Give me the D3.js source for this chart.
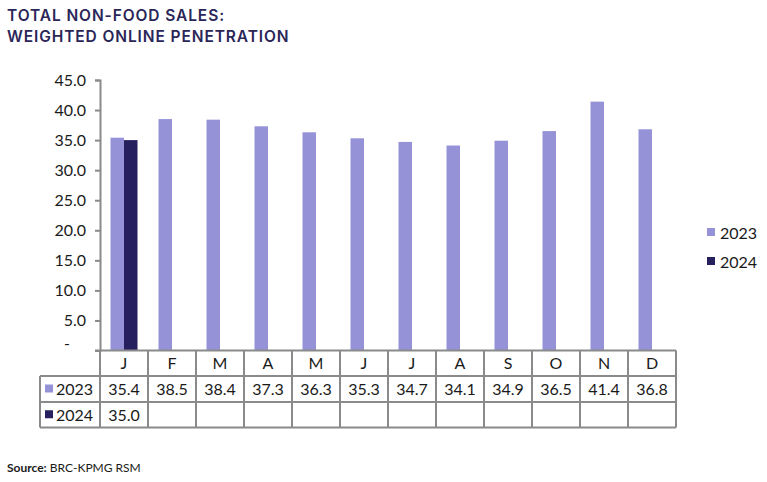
<!DOCTYPE html>
<html><head><meta charset="utf-8">
<script src="https://cdn.jsdelivr.net/npm/d3@7"></script>
<style>body{margin:0;background:#fff;} svg{display:block;}</style>
</head><body>
<svg id="chart" width="767" height="482"></svg>
<script>
const months = ["J","F","M","A","M","J","J","A","S","O","N","D"];
const seriesNames = ["2023","2024"];
const values2023 = [35.4,38.5,38.4,37.3,36.3,35.3,34.7,34.1,34.9,36.5,41.4,36.8];
const values2024 = [35.0,null,null,null,null,null,null,null,null,null,null,null];
const yTicks = [0,5,10,15,20,25,30,35,40,45];
const colors = ["#9592d8","#26215e"];
const titleLines = ["TOTAL NON-FOOD SALES:","WEIGHTED ONLINE PENETRATION"];

const svg = d3.select("#chart");
const L = 100, R = 676, T = 80, B = 350.5;
const font = "Lato, 'Open Sans', sans-serif";
const grid = "#8a8a8a";
const fs = 16;

const idx = months.map((m,i)=>i);
const x = d3.scaleBand().domain(idx).range([L,R]).padding(0);
const x1 = d3.scaleBand().domain(seriesNames).range([0,x.bandwidth()]).paddingInner(0).paddingOuter(0.778);
const y = d3.scaleLinear().domain([0,45]).range([B,T]);

// title
svg.append("g").selectAll("text").data(titleLines).join("text")
  .attr("x",7).attr("y",(d,i)=>21+i*21)
  .attr("font-family","Inter, sans-serif").attr("font-weight",600)
  .attr("font-size",15.5).attr("fill","#2b2658").attr("letter-spacing",0.9)
  .text(d=>d);

// bars
const allSeries = [values2023, values2024];
allSeries.forEach((vals,si)=>{
  svg.append("g").selectAll("rect").data(vals.map((v,i)=>({v,i})).filter(d=>d.v!=null)).join("rect")
    .attr("x",d=>x(d.i)+x1(seriesNames[si]))
    .attr("width",x1.bandwidth())
    .attr("y",d=>y(d.v)).attr("height",d=>y(0)-y(d.v))
    .attr("fill",colors[si]);
});

// y axis
const yAxis = d3.axisLeft(y).tickValues(yTicks).tickSize(5).tickPadding(9)
  .tickFormat(d=>d===0?"-":d3.format(".1f")(d));
const ya = svg.append("g").attr("transform",`translate(${L},0)`).call(yAxis);
ya.select(".domain").attr("stroke",grid).attr("stroke-width",2);
ya.selectAll(".tick line").attr("stroke",grid).attr("stroke-width",2);
ya.selectAll(".tick text").attr("font-family",font).attr("font-size",fs).attr("fill","#1a1a1a");
ya.selectAll(".tick").filter(d=>d===0).select("line").remove();
ya.selectAll(".tick").filter(d=>d===0).select("text").attr("dy","-0.1em").attr("dx",-16);

// table
const rowsY = [350.5, 376, 402, 427.5];
const tbl = svg.append("g");
const lineAttr = s=>s.attr("stroke",grid).attr("stroke-width",2);
tbl.append("line").attr("x1",95).attr("x2",R).attr("y1",rowsY[0]).attr("y2",rowsY[0]).call(lineAttr);
rowsY.slice(1).forEach(yy=>{
  tbl.append("line").attr("x1",40).attr("x2",R).attr("y1",yy).attr("y2",yy).call(lineAttr);
});
tbl.append("line").attr("x1",40).attr("x2",40).attr("y1",rowsY[1]).attr("y2",rowsY[3]).call(lineAttr);
idx.concat([12]).forEach(i=>{
  const xx = i<12 ? x(i) : R;
  tbl.append("line").attr("x1",xx).attr("x2",xx).attr("y1",rowsY[0]).attr("y2",rowsY[3]).call(lineAttr);
});
tbl.selectAll("text.m").data(months).join("text").attr("class","m")
  .attr("x",(d,i)=>x(i)+x.bandwidth()/2).attr("y",(rowsY[0]+rowsY[1])/2+6)
  .attr("text-anchor","middle").attr("font-family",font).attr("font-size",fs).attr("fill","#1a1a1a")
  .text(d=>d);
allSeries.forEach((vals,si)=>{
  const cy = (rowsY[si+1]+rowsY[si+2])/2+6;
  tbl.append("g").selectAll("text").data(vals.map((v,i)=>({v,i})).filter(d=>d.v!=null)).join("text")
    .attr("x",d=>x(d.i)+x.bandwidth()/2).attr("y",cy)
    .attr("text-anchor","middle").attr("font-family",font).attr("font-size",fs).attr("fill","#1a1a1a")
    .text(d=>d3.format(".1f")(d.v));
  tbl.append("rect").attr("x",45).attr("y",cy-10.5).attr("width",8).attr("height",8).attr("fill",colors[si]);
  tbl.append("text").attr("x",56).attr("y",cy).attr("font-family",font).attr("font-size",fs).attr("fill","#1a1a1a").text(seriesNames[si]);
});

// legend
const lg = svg.append("g");
seriesNames.forEach((s,i)=>{
  const ly = 239 + i*29;
  lg.append("rect").attr("x",707).attr("y",ly-11).attr("width",8).attr("height",8).attr("fill",colors[i]);
  lg.append("text").attr("x",720).attr("y",ly).attr("font-family",font).attr("font-size",fs).attr("fill","#1a1a1a").text(s);
});

// source
const src = svg.append("text").attr("x",7).attr("y",472).attr("font-family",font).attr("font-size",12).attr("fill","#1a1a1a");
src.append("tspan").attr("font-weight",700).text("Source:");
src.append("tspan").text(" BRC-KPMG RSM");
</script>
</body></html>
